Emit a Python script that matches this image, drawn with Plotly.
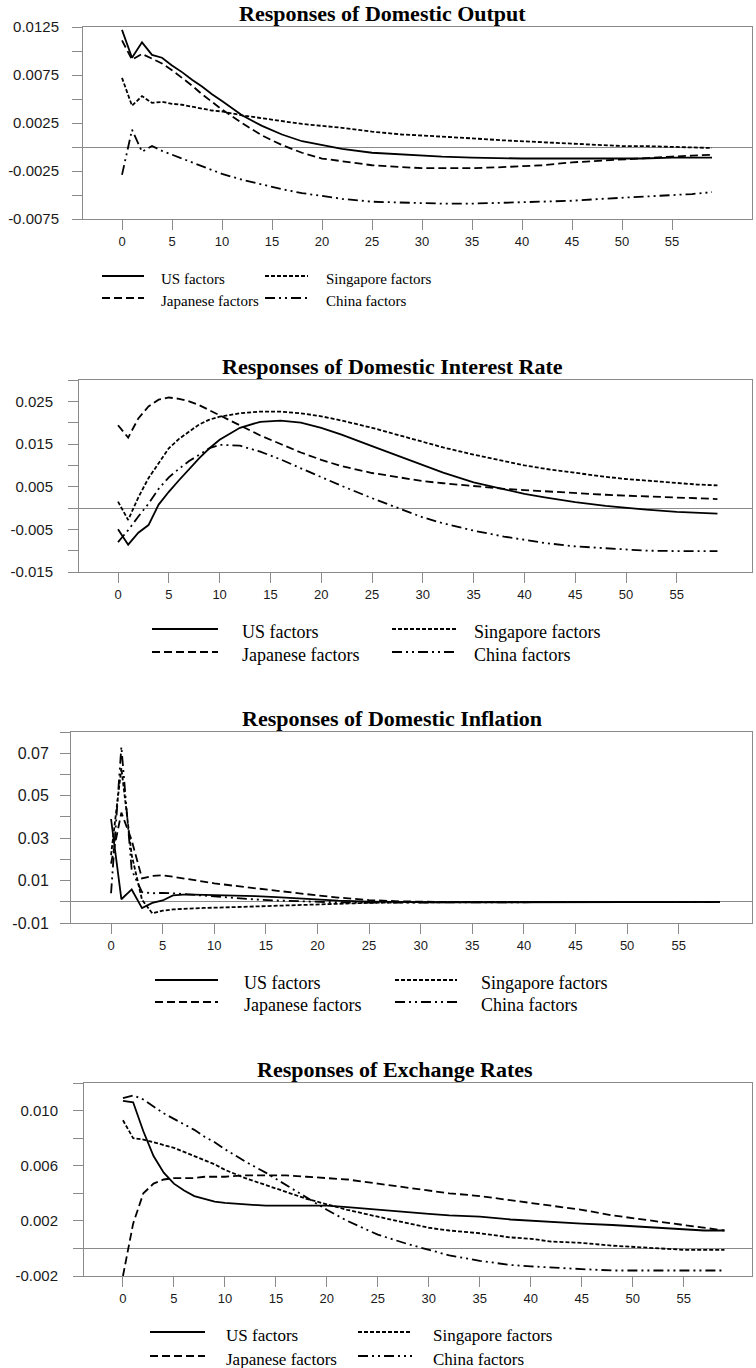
import plotly.graph_objects as go

# ---------------- DATA ----------------
periods = [0, 1, 2, 3, 4, 5, 6, 7, 8, 9, 10, 12, 14, 16, 18, 20, 22, 25, 28, 30,
           32, 35, 38, 40, 42, 45, 48, 50, 52, 55, 57, 59]

series_names = ["US factors", "Japanese factors", "Singapore factors", "China factors"]

titles = ["Responses of Domestic Output",
          "Responses of Domestic Interest Rate",
          "Responses of Domestic Inflation",
          "Responses of Exchange Rates"]

# Panel 1: Domestic Output
output_us = [0.0122, 0.0093, 0.0109, 0.0096, 0.0093, 0.0085, 0.0078, 0.0070, 0.0063, 0.0055, 0.0048,
             0.0033, 0.0022, 0.0013, 0.0006, 0.0002, -0.0002, -0.0006, -0.0008, -0.0009, -0.0010,
             -0.0011, -0.0012, -0.0012, -0.0012, -0.0012, -0.0012, -0.0012, -0.0012, -0.0011, -0.0011, -0.0011]
output_jp = [0.0111, 0.0091, 0.0097, 0.0092, 0.0087, 0.0080, 0.0072, 0.0064, 0.0055, 0.0047, 0.0039,
             0.0025, 0.0012, 0.0002, -0.0006, -0.0012, -0.0015, -0.0019, -0.0021, -0.0022, -0.0022,
             -0.0022, -0.0021, -0.0020, -0.0019, -0.0016, -0.0014, -0.0013, -0.0012, -0.0010, -0.0009, -0.0008]
output_sg = [0.0072, 0.0043, 0.0053, 0.0046, 0.0047, 0.0045, 0.0044, 0.0042, 0.0040, 0.0038, 0.0037,
             0.0033, 0.0030, 0.0027, 0.0024, 0.0022, 0.0020, 0.0016, 0.0013, 0.0012, 0.0011,
             0.0009, 0.0007, 0.0006, 0.0005, 0.0003, 0.0002, 0.0001, 0.0001, 0.0000, -0.0001, -0.0001]
output_cn = [-0.0029, 0.0018, -0.0005, 0.0001, -0.0004, -0.0008, -0.0012, -0.0016, -0.0020, -0.0024, -0.0028,
             -0.0034, -0.0039, -0.0044, -0.0048, -0.0051, -0.0054, -0.0057, -0.0058, -0.0059, -0.0059,
             -0.0059, -0.0058, -0.0058, -0.0057, -0.0056, -0.0054, -0.0053, -0.0052, -0.0050, -0.0049, -0.0047]

# Panel 2: Domestic Interest Rate
rate_us = [-0.0050, -0.0086, -0.0058, -0.0040, 0.0008, 0.0038, 0.0065, 0.0092, 0.0117, 0.0140, 0.0160,
           0.0188, 0.0202, 0.0205, 0.0200, 0.0188, 0.0172, 0.0145, 0.0118, 0.0100, 0.0083,
           0.0060, 0.0043, 0.0033, 0.0025, 0.0014, 0.0005, 0.0000, -0.0004, -0.0009, -0.0011, -0.0013]
rate_jp = [0.0194, 0.0165, 0.0210, 0.0238, 0.0254, 0.0259, 0.0256, 0.0250, 0.0241, 0.0229, 0.0218,
           0.0193, 0.0170, 0.0150, 0.0130, 0.0113, 0.0098, 0.0082, 0.0070, 0.0063, 0.0058,
           0.0051, 0.0045, 0.0042, 0.0039, 0.0035, 0.0031, 0.0029, 0.0027, 0.0024, 0.0022, 0.0021]
rate_sg = [0.0015, -0.0028, 0.0025, 0.0070, 0.0105, 0.0140, 0.0162, 0.0180, 0.0196, 0.0207, 0.0214,
           0.0222, 0.0226, 0.0226, 0.0222, 0.0215, 0.0205, 0.0188, 0.0168, 0.0155, 0.0142,
           0.0125, 0.0110, 0.0100, 0.0092, 0.0082, 0.0073, 0.0068, 0.0064, 0.0058, 0.0055, 0.0053]
rate_cn = [-0.0080, -0.0052, -0.0020, 0.0010, 0.0045, 0.0072, 0.0092, 0.0110, 0.0125, 0.0140, 0.0148,
           0.0146, 0.0132, 0.0114, 0.0093, 0.0072, 0.0052, 0.0023, -0.0005, -0.0022, -0.0036,
           -0.0053, -0.0067, -0.0075, -0.0082, -0.0090, -0.0095, -0.0098, -0.0100, -0.0101, -0.0101, -0.0101]

# Panel 3: Domestic Inflation
infl_us = [0.0390, 0.0012, 0.0058, -0.0030, -0.0005, 0.0006, 0.0030, 0.0034, 0.0034, 0.0033, 0.0032,
           0.0030, 0.0027, 0.0022, 0.0016, 0.0010, 0.0005, 0.0001, -0.0002, -0.0003, -0.0003,
           -0.0003, -0.0002, -0.0002, -0.0002, -0.0001, -0.0001, -0.0001, -0.0001, 0.0000, 0.0000, 0.0000]
infl_jp = [0.0180, 0.0420, 0.0290, 0.0110, 0.0122, 0.0125, 0.0118, 0.0110, 0.0102, 0.0094, 0.0087,
           0.0075, 0.0063, 0.0051, 0.0040, 0.0030, 0.0020, 0.0008, 0.0002, 0.0000, -0.0001,
           -0.0001, -0.0001, -0.0001, 0.0000, 0.0000, 0.0000, 0.0000, 0.0000, 0.0000, 0.0000, 0.0000]
infl_sg = [0.0220, 0.0630, 0.0220, 0.0010, -0.0055, -0.0042, -0.0036, -0.0033, -0.0031, -0.0029, -0.0028,
           -0.0025, -0.0021, -0.0017, -0.0013, -0.0010, -0.0008, -0.0005, -0.0003, -0.0002, -0.0002,
           -0.0001, -0.0001, -0.0001, 0.0000, 0.0000, 0.0000, 0.0000, 0.0000, 0.0000, 0.0000, 0.0000]
infl_cn = [0.0040, 0.0730, 0.0150, 0.0045, 0.0040, 0.0042, 0.0040, 0.0036, 0.0032, 0.0028, 0.0024,
           0.0017, 0.0011, 0.0006, 0.0002, -0.0001, -0.0003, -0.0004, -0.0004, -0.0003, -0.0003,
           -0.0002, -0.0002, -0.0002, -0.0001, -0.0001, -0.0001, -0.0001, 0.0000, 0.0000, 0.0000, 0.0000]

# Panel 4: Exchange Rates
fx_us = [0.0107, 0.0106, 0.0085, 0.0067, 0.0055, 0.0047, 0.0042, 0.0038, 0.0036, 0.0034, 0.0033,
         0.0032, 0.0031, 0.0031, 0.0031, 0.0031, 0.0030, 0.0028, 0.0026, 0.0025, 0.0024,
         0.0023, 0.0021, 0.0020, 0.0019, 0.0018, 0.0017, 0.0016, 0.0015, 0.0014, 0.0013, 0.0013]
fx_jp = [-0.0020, 0.0018, 0.0040, 0.0047, 0.0050, 0.0051, 0.0051, 0.0051, 0.0052, 0.0052, 0.0052,
         0.0053, 0.0053, 0.0053, 0.0052, 0.0051, 0.0050, 0.0047, 0.0044, 0.0042, 0.0040,
         0.0038, 0.0035, 0.0033, 0.0031, 0.0028, 0.0024, 0.0022, 0.0020, 0.0017, 0.0015, 0.0013]
fx_sg = [0.0093, 0.0080, 0.0079, 0.0077, 0.0075, 0.0073, 0.0070, 0.0067, 0.0064, 0.0061, 0.0057,
         0.0051, 0.0046, 0.0041, 0.0036, 0.0032, 0.0028, 0.0023, 0.0018, 0.0015, 0.0013,
         0.0011, 0.0008, 0.0007, 0.0005, 0.0004, 0.0002, 0.0001, 0.0000, -0.0001, -0.0001, -0.0001]
fx_cn = [0.0109, 0.0111, 0.0108, 0.0103, 0.0098, 0.0094, 0.0090, 0.0086, 0.0081, 0.0077, 0.0072,
         0.0063, 0.0055, 0.0046, 0.0037, 0.0028, 0.0020, 0.0010, 0.0003, -0.0001, -0.0005,
         -0.0009, -0.0012, -0.0013, -0.0014, -0.0015, -0.0016, -0.0016, -0.0016, -0.0016, -0.0016, -0.0016]

x_tickvals = [0, 5, 10, 15, 20, 25, 30, 35, 40, 45, 50, 55]
x_ticktext = ["0", "5", "10", "15", "20", "25", "30", "35", "40", "45", "50", "55"]

output_ytickvals = [-0.0075, -0.005, -0.0025, 0, 0.0025, 0.005, 0.0075, 0.01, 0.0125]
output_yticktext = ["-0.0075", "", "-0.0025", "", "0.0025", "", "0.0075", "", "0.0125"]
rate_ytickvals = [-0.015, -0.01, -0.005, 0, 0.005, 0.01, 0.015, 0.02, 0.025, 0.03]
rate_yticktext = ["-0.015", "", "-0.005", "", "0.005", "", "0.015", "", "0.025", ""]
infl_ytickvals = [-0.01, 0, 0.01, 0.02, 0.03, 0.04, 0.05, 0.06, 0.07, 0.08]
infl_yticktext = ["-0.01", "", "0.01", "", "0.03", "", "0.05", "", "0.07", ""]
fx_ytickvals = [-0.002, 0, 0.002, 0.004, 0.006, 0.008, 0.010, 0.012]
fx_yticktext = ["-0.002", "", "0.002", "", "0.006", "", "0.010", ""]

panel_series = [
    [output_us, output_jp, output_sg, output_cn],
    [rate_us, rate_jp, rate_sg, rate_cn],
    [infl_us, infl_jp, infl_sg, infl_cn],
    [fx_us, fx_jp, fx_sg, fx_cn],
]
panel_yticks = [
    (output_ytickvals, output_yticktext),
    (rate_ytickvals, rate_yticktext),
    (infl_ytickvals, infl_yticktext),
    (fx_ytickvals, fx_yticktext),
]

# ---------------- STYLE / LAYOUT ----------------
W, H = 756, 1368
dashes = ["solid", "8px,4px", "4px,2px", "10px,4px,2px,4px,2px,4px"]
line_w = 1.8
GRAY = "#8a8a8a"
TXT = "#1a1a1a"

panels = [
    dict(x0=83, x1=752, y0=27, y1=219, xr=[-3.9, 63.0], yr=[-0.0075, 0.0125],
         tx=382, standoff=10, ytfs=15,
         leg=dict(rows=[279, 301], sx=[(102, 144), (265, 308)], tx=[159, 324], fs=15)),
    dict(x0=79, x1=752, y0=380, y1=572, xr=[-3.84, 62.4], yr=[-0.015, 0.030],
         tx=392, standoff=12, ytfs=15,
         leg=dict(rows=[632, 655], sx=[(152, 218), (392, 456)], tx=[240, 472], fs=18)),
    dict(x0=71, x1=752, y0=732, y1=923, xr=[-3.88, 62.1], yr=[-0.01, 0.08],
         tx=392, standoff=8, ytfs=16,
         leg=dict(rows=[983, 1005], sx=[(155, 218), (395, 457)], tx=[242, 479], fs=18)),
    dict(x0=84, x1=752, y0=1083, y1=1276, xr=[-3.82, 61.7], yr=[-0.002, 0.012],
         tx=395, standoff=12, ytfs=15,
         leg=dict(rows=[1335, 1359], sx=[(150, 205), (358, 412)], tx=[224, 431], fs=17)),
]
# legend layout: order in grid (row, col)
legend_grid = [(0, 0), (1, 0), (0, 1), (1, 1)]  # US, Japanese, Singapore, China

fig = go.Figure()
layout = dict(width=W, height=H, margin=dict(l=0, r=0, t=0, b=0, autoexpand=False), autosize=False,
              paper_bgcolor="white", plot_bgcolor="white", showlegend=False)
shapes = []
annotations = []

for i, p in enumerate(panels):
    n = "" if i == 0 else str(i + 1)
    xa, ya = "xaxis" + n, "yaxis" + n
    for s, ys in enumerate(panel_series[i]):
        fig.add_trace(go.Scatter(x=periods, y=ys, mode="lines", name=series_names[s],
                                 xaxis="x" + n, yaxis="y" + n,
                                 line=dict(color="black", width=line_w, dash=dashes[s])))
    layout[xa] = dict(domain=[p["x0"] / W, p["x1"] / W], range=p["xr"], anchor="y" + n,
                      tickvals=x_tickvals, ticktext=x_ticktext, ticks="outside", ticklen=10,
                      tickcolor=GRAY, tickwidth=1, showline=True, linecolor=GRAY, linewidth=1,
                      mirror=True, showgrid=False, zeroline=False, automargin=False,
                      tickfont=dict(family="Liberation Sans, Arial", size=13, color=TXT))
    tv, tt = panel_yticks[i]
    layout[ya] = dict(domain=[1 - p["y1"] / H, 1 - p["y0"] / H], range=p["yr"], anchor="x" + n,
                      tickvals=tv, ticktext=tt, ticks="outside", ticklen=10,
                      tickcolor=GRAY, tickwidth=1, showline=True, linecolor=GRAY, linewidth=1,
                      mirror=True, showgrid=False, zeroline=True, zerolinecolor=GRAY,
                      zerolinewidth=1, ticklabelstandoff=p["standoff"], automargin=False,
                      tickfont=dict(family="Liberation Sans, Arial", size=p["ytfs"], color=TXT))
    annotations.append(dict(text="<b>" + titles[i] + "</b>", x=p["tx"] / W, y=1 - p["y0"] / H,
                            xref="paper", yref="paper", xanchor="center", yanchor="bottom",
                            showarrow=False, borderpad=0,
                            font=dict(family="Liberation Serif, Times New Roman", size=22,
                                      color="black")))
    lg = p["leg"]
    for s, (r, c) in enumerate(legend_grid):
        yy = lg["rows"][r]
        xs0, xs1 = lg["sx"][c]
        shapes.append(dict(type="line", xref="paper", yref="paper",
                           x0=xs0 / W, x1=xs1 / W, y0=1 - (yy - 3) / H, y1=1 - (yy - 3) / H,
                           line=dict(color="black", width=line_w, dash=dashes[s])))
        annotations.append(dict(text=series_names[s], x=lg["tx"][c] / W, y=1 - yy / H,
                                xref="paper", yref="paper", xanchor="left", yanchor="middle",
                                showarrow=False,
                                font=dict(family="Liberation Serif, Times New Roman",
                                          size=lg["fs"], color="black")))

layout["shapes"] = shapes
layout["annotations"] = annotations
fig.update_layout(**layout)

# remove the browser's default 8px page margin so the figure fills the window exactly
page_css = "document.body.style.margin='0';document.body.style.overflow='hidden';"
fig.write_html("out.html", post_script=page_css, config={"displayModeBar": False})
